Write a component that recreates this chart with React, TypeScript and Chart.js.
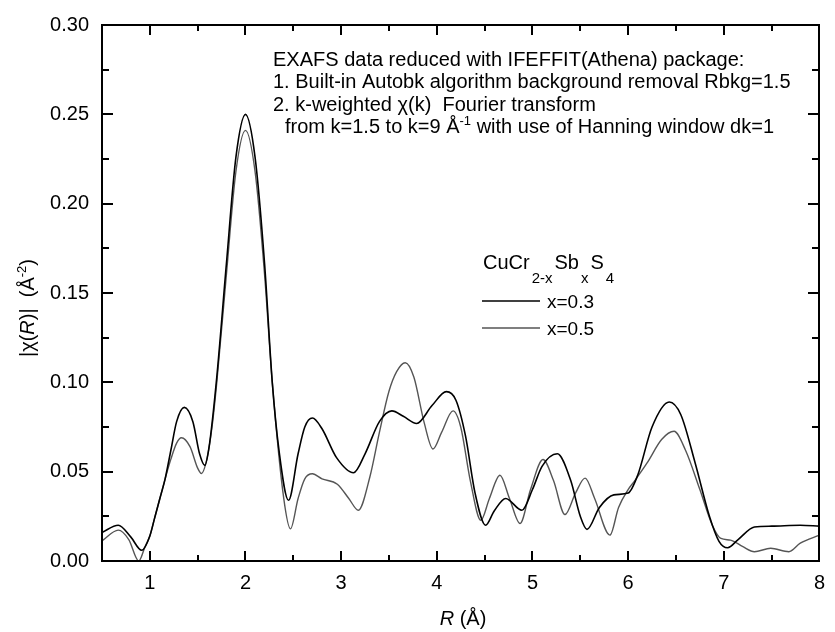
import React, { useEffect, useRef } from "react";
import { Chart, registerables } from "chart.js";

Chart.register(...registerables);

// R (Å) positions and |chi(R)| values
const R_X03 = [0.5, 0.67, 0.8, 0.915, 1.0, 1.05, 1.1, 1.16, 1.22, 1.28, 1.36, 1.45, 1.52, 1.575, 1.62, 1.7, 1.8, 1.9, 2.0, 2.1, 2.2, 2.28, 2.35, 2.45, 2.55, 2.62, 2.7, 2.8, 2.95, 3.13, 3.25, 3.4, 3.53, 3.65, 3.79, 3.95, 4.1, 4.2, 4.3, 4.4, 4.51, 4.6, 4.72, 4.89, 5.0, 5.1, 5.26, 5.4, 5.5, 5.57, 5.7, 5.85, 6.0, 6.1, 6.25, 6.43, 6.55, 6.7, 6.85, 6.95, 7.04, 7.15, 7.32, 7.5, 7.8, 8.0];
const CHI_X03 = [0.016, 0.020, 0.0135, 0.006, 0.014, 0.024, 0.034, 0.046, 0.062, 0.078, 0.086, 0.078, 0.060, 0.0535, 0.064, 0.103, 0.166, 0.226, 0.250, 0.226, 0.166, 0.100, 0.062, 0.034, 0.060, 0.075, 0.080, 0.074, 0.058, 0.0494, 0.060, 0.078, 0.084, 0.081, 0.077, 0.087, 0.0948, 0.090, 0.070, 0.038, 0.020, 0.028, 0.035, 0.0284, 0.040, 0.053, 0.060, 0.045, 0.025, 0.0177, 0.030, 0.037, 0.038, 0.048, 0.075, 0.089, 0.082, 0.055, 0.025, 0.011, 0.0074, 0.012, 0.019, 0.0195, 0.020, 0.0195];

const R_X05 = [0.5, 0.67, 0.78, 0.884, 0.95, 1.0, 1.05, 1.1, 1.16, 1.22, 1.28, 1.33, 1.42, 1.5, 1.54, 1.6, 1.65, 1.7, 1.8, 1.9, 2.0, 2.1, 2.2, 2.28, 2.4, 2.47, 2.55, 2.62, 2.7, 2.8, 2.96, 3.08, 3.18, 3.3, 3.4, 3.5, 3.58, 3.67, 3.76, 3.87, 3.96, 4.05, 4.17, 4.25, 4.35, 4.46, 4.55, 4.66, 4.76, 4.87, 4.98, 5.11, 5.22, 5.34, 5.45, 5.55, 5.65, 5.81, 5.9, 6.0, 6.07, 6.2, 6.35, 6.48, 6.6, 6.75, 6.88, 6.97, 7.07, 7.2, 7.32, 7.49, 7.68, 7.8, 8.0];
const CHI_X05 = [0.0113, 0.0173, 0.012, 0.0, 0.008, 0.014, 0.024, 0.034, 0.046, 0.057, 0.066, 0.069, 0.064, 0.052, 0.049, 0.058, 0.075, 0.100, 0.160, 0.218, 0.241, 0.218, 0.160, 0.100, 0.035, 0.018, 0.035, 0.046, 0.0488, 0.046, 0.043, 0.035, 0.0284, 0.047, 0.072, 0.095, 0.106, 0.111, 0.103, 0.077, 0.0627, 0.072, 0.084, 0.075, 0.045, 0.0228, 0.035, 0.048, 0.035, 0.021, 0.040, 0.0568, 0.045, 0.026, 0.038, 0.0464, 0.035, 0.0145, 0.030, 0.040, 0.045, 0.055, 0.068, 0.0726, 0.062, 0.040, 0.020, 0.0126, 0.0117, 0.008, 0.0052, 0.0071, 0.0052, 0.010, 0.0145];

const X_TICKS = [1, 2, 3, 4, 5, 6, 7, 8];
const X_MINOR = [0.5, 1.5, 2.5, 3.5, 4.5, 5.5, 6.5, 7.5];
const Y_TICKS = [0, 0.05, 0.1, 0.15, 0.2, 0.25, 0.3];
const Y_MINOR = [0.025, 0.075, 0.125, 0.175, 0.225, 0.275];

const SERIES_LABELS = ["x=0.3", "x=0.5"];
const SERIES_COLORS = ["#000000", "#555555"];

const NOTE_LINES = [
  "EXAFS data reduced with IFEFFIT(Athena) package:",
  "1. Built-in Autobk algorithm background removal Rbkg=1.5",
];

const FONT = "'Liberation Sans', Arial, sans-serif";

type Seg = { t: string; size?: number; italic?: boolean; dy?: number };

function drawRich(ctx: CanvasRenderingContext2D, segs: Seg[], x: number, y: number, gap = 0) {
  let cx = x;
  for (const s of segs) {
    ctx.font = `${s.italic ? "italic " : ""}${s.size ?? 20}px ${FONT}`;
    ctx.fillText(s.t, cx, y + (s.dy ?? 0));
    cx += ctx.measureText(s.t).width + gap;
  }
  return cx;
}
function richWidth(ctx: CanvasRenderingContext2D, segs: Seg[], gap = 0) {
  let w = 0;
  for (const s of segs) {
    ctx.font = `${s.italic ? "italic " : ""}${s.size ?? 20}px ${FONT}`;
    w += ctx.measureText(s.t).width + gap;
  }
  return w;
}

const decorPlugin = {
  id: "decor",
  afterDraw(chart: any) {
    const ctx: CanvasRenderingContext2D = chart.ctx;
    const { left, right, top, bottom } = chart.chartArea;
    const xs = chart.scales.x;
    const ys = chart.scales.y;
    ctx.save();
    ctx.fillStyle = "#000";
    // frame
    const L = Math.round(left), R = Math.round(right), T = Math.round(top), B = Math.round(bottom);
    ctx.fillRect(L - 1, T - 1, R - L + 2, 2);
    ctx.fillRect(L - 1, B - 1, R - L + 2, 2);
    ctx.fillRect(L - 1, T - 1, 2, B - T + 2);
    ctx.fillRect(R - 1, T - 1, 2, B - T + 2);
    // ticks
    const tickX = (vals: number[], len: number) => {
      for (const v of vals) {
        const px = Math.round(xs.getPixelForValue(v));
        ctx.fillRect(px - 1, B - len, 2, len);
        ctx.fillRect(px - 1, T, 2, len);
      }
    };
    const tickY = (vals: number[], len: number) => {
      for (const v of vals) {
        const py = Math.round(ys.getPixelForValue(v));
        ctx.fillRect(L, py - 1, len, 2);
        ctx.fillRect(R - len, py - 1, len, 2);
      }
    };
    tickX(X_TICKS, 10);
    tickX(X_MINOR, 6);
    tickY(Y_TICKS, 11);
    tickY(Y_MINOR, 7);

    ctx.textBaseline = "alphabetic";
    ctx.textAlign = "left";
    // notes
    ctx.font = `20px ${FONT}`;
    ctx.fillText(NOTE_LINES[0], 273, 66);
    ctx.fillText(NOTE_LINES[1], 273, 88);
    drawRich(ctx, [{ t: "2. k-weighted " }, { t: "χ" }, { t: "(k)  Fourier transform" }], 273, 111);
    drawRich(ctx, [
      { t: "from k=1.5 to k=9 Å" },
      { t: "-1", size: 13, dy: -8 },
      { t: " with use of Hanning window dk=1" },
    ], 285, 133);

    // legend title
    drawRich(ctx, [
      { t: "CuCr" },
      { t: "2-x", size: 15, dy: 14 },
      { t: "Sb" },
      { t: "x", size: 15, dy: 14 },
      { t: "S" },
      { t: "4", size: 15, dy: 14 },
    ], 483, 269, 2);
    const legY = [301, 328];
    for (let i = 0; i < 2; i++) {
      ctx.strokeStyle = SERIES_COLORS[i];
      ctx.lineWidth = 1.5;
      ctx.beginPath();
      ctx.moveTo(482, legY[i]);
      ctx.lineTo(540, legY[i]);
      ctx.stroke();
      ctx.fillStyle = "#000";
      ctx.font = `19px ${FONT}`;
      ctx.fillText(SERIES_LABELS[i], 547, legY[i] + 6.5);
    }

    // x title
    const xt: Seg[] = [{ t: "R", italic: true }, { t: " (Å)" }];
    const xw = richWidth(ctx, xt);
    drawRich(ctx, xt, 463 - xw / 2, 625);

    // y title
    const yt: Seg[] = [
      { t: "|χ(" },
      { t: "R", italic: true },
      { t: ")|  (Å" },
      { t: "-2", size: 13, dy: -8 },
      { t: ")" },
    ];
    const yw = richWidth(ctx, yt);
    ctx.translate(34, 308);
    ctx.rotate(-Math.PI / 2);
    drawRich(ctx, yt, -yw / 2, 0);
    ctx.restore();
  },
};

export default function App() {
  const ref = useRef<HTMLCanvasElement | null>(null);
  useEffect(() => {
    document.body.style.margin = "0";
    const canvas = ref.current;
    if (!canvas) return;
    const chart = new Chart(canvas, {
      type: "line",
      data: {
        datasets: [
          {
            label: SERIES_LABELS[0],
            data: R_X03.map((x, i) => ({ x, y: CHI_X03[i] })),
            borderColor: SERIES_COLORS[0],
            borderWidth: 1.6,
            pointRadius: 0,
            cubicInterpolationMode: "monotone",
            fill: false,
          },
          {
            label: SERIES_LABELS[1],
            data: R_X05.map((x, i) => ({ x, y: CHI_X05[i] })),
            borderColor: SERIES_COLORS[1],
            borderWidth: 1.4,
            pointRadius: 0,
            cubicInterpolationMode: "monotone",
            fill: false,
          },
        ],
      },
      options: {
        animation: false,
        responsive: false,
        events: [],
        layout: { padding: { top: 22, right: 9, left: 0, bottom: 0 } },
        plugins: { legend: { display: false }, tooltip: { enabled: false }, title: { display: false } },
        scales: {
          x: {
            type: "linear",
            min: 0.5,
            max: 8,
            grid: { display: false, drawTicks: false },
            border: { display: false },
            afterBuildTicks: (s: any) => { s.ticks = X_TICKS.map((v) => ({ value: v })); },
            afterFit: (s: any) => { s.height = 71; },
            ticks: {
              autoSkip: false,
              maxRotation: 0,
              padding: 10,
              color: "#000",
              font: { family: FONT, size: 20 },
              callback: (v: any) => String(v),
            },
          },
          y: {
            type: "linear",
            min: 0,
            max: 0.3,
            grid: { display: false, drawTicks: false },
            border: { display: false },
            afterBuildTicks: (s: any) => { s.ticks = Y_TICKS.map((v) => ({ value: v })); },
            afterFit: (s: any) => { s.width = 102; },
            ticks: {
              autoSkip: false,
              padding: 13,
              color: "#000",
              font: { family: FONT, size: 20 },
              callback: (v: any) => Number(v).toFixed(2),
            },
          },
        },
      },
      plugins: [decorPlugin],
    } as any);
    return () => chart.destroy();
  }, []);
  return <canvas ref={ref} width={835} height={632} style={{ display: "block" }} />;
}
